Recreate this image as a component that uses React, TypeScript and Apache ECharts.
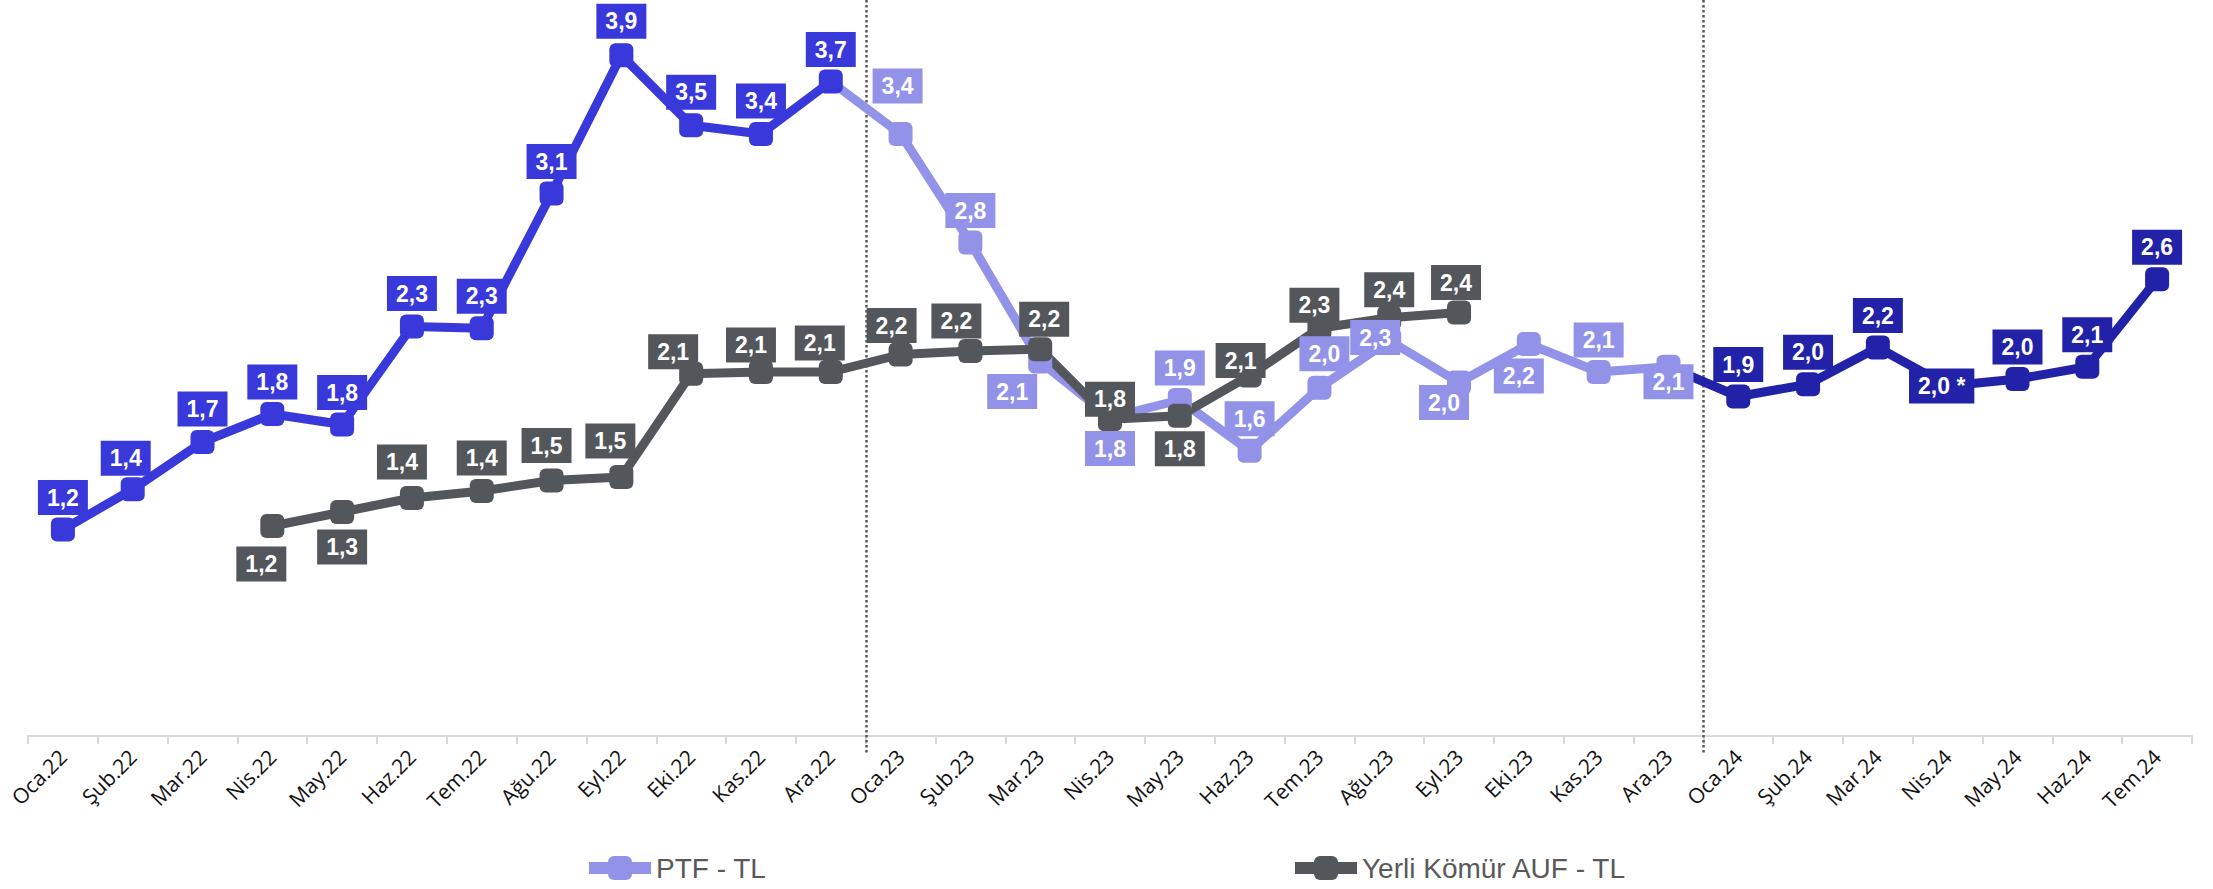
import React, { useEffect, useRef } from "react";
import * as echarts from "echarts";

// ---- data ----
const months = [
  "Oca.22", "Şub.22", "Mar.22", "Nis.22", "May.22", "Haz.22", "Tem.22", "Ağu.22", "Eyl.22", "Eki.22", "Kas.22", "Ara.22",
  "Oca.23", "Şub.23", "Mar.23", "Nis.23", "May.23", "Haz.23", "Tem.23", "Ağu.23", "Eyl.23", "Eki.23", "Kas.23", "Ara.23",
  "Oca.24", "Şub.24", "Mar.24", "Nis.24", "May.24", "Haz.24", "Tem.24",
];

// PTF - TL, 2022 (Oca.22 - Ara.22)
const ptf2022 = [1.18, 1.41, 1.68, 1.84, 1.78, 2.34, 2.33, 3.1, 3.89, 3.49, 3.44, 3.74];
// PTF - TL, 2023 (Oca.23 - Ara.23)
const ptf2023 = [3.44, 2.82, 2.14, 1.82, 1.92, 1.63, 1.99, 2.26, 2.02, 2.24, 2.08, 2.11];
// PTF - TL, 2024 (Oca.24 - Tem.24)
const ptf2024 = [1.94, 2.01, 2.22, 2.0, 2.04, 2.11, 2.61];
const ptf2024Notes = ["", "", "", " *", "", "", ""];
// Yerli Kömür AUF - TL (Nis.22 - Eyl.23)
const komur = [1.2, 1.28, 1.36, 1.4, 1.46, 1.48, 2.07, 2.08, 2.08, 2.18, 2.2, 2.21, 1.81, 1.83, 2.06, 2.33, 2.39, 2.42];
const komurStart = 3;

// ---- label placement (style only) ----
const offBlue: number[][] = [[0, -32], [-7, -31], [0, -33], [0, -32], [0, -32], [0, -33], [0, -32], [0, -32], [0, -34], [0, -33], [0, -33], [0, -32]];
const offLight: number[][] = [[-3, -48], [0, -32], [-28, 30], [0, 31], [0, -32], [0, -32], [5, -34], [-14, -3], [-15, 20], [-10, 32], [0, -32], [0, 15]];
const offNavy: number[][] = [[0, -32], [0, -32], [0, -32], [-6, 0], [0, -32], [0, -32], [0, -32]];
const offGray: number[][] = [[-11, 38], [0, 35], [-10, -36], [0, -33], [-5, -35], [-11, -36], [-18, -22], [-10, -27], [-11, -29], [-9, -29], [-14, -30], [4, -30], [0, -20], [0, 33], [-9, -15], [-5, -23], [0, -28], [-3, -30]];

const C_BLUE = "#3939db";
const C_LIGHT = "#9292e9";
const C_NAVY = "#2222a9";
const C_GRAY = "#53565a";

const fmt = (v: number) => v.toFixed(1).replace(".", ",");

function buildData(values: number[], start: number, offsets: number[][], notes?: string[], bridge?: { index: number; value: number }) {
  const arr: any[] = months.map(() => null);
  if (bridge) {
    arr[bridge.index] = { value: bridge.value, symbol: "none", label: { show: false } };
  }
  values.forEach((v, i) => {
    arr[start + i] = {
      value: v,
      note: notes ? notes[i] : "",
      label: { offset: offsets[i] },
    };
  });
  return arr;
}

function lineSeries(name: string, color: string, data: any[], fontFamily: string) {
  return {
    name,
    type: "line",
    data,
    symbol: "roundRect",
    symbolSize: 24,
    lineStyle: { color, width: 9 },
    itemStyle: { color },
    connectNulls: false,
    label: {
      show: true,
      position: "inside",
      color: "#ffffff",
      fontFamily,
      fontWeight: "bold",
      fontSize: 23,
      lineHeight: 23,
      backgroundColor: color,
      padding: [6, 9],
      formatter: (p: any) => fmt(p.value) + ((p.data && p.data.note) || ""),
    },
    emphasis: { disabled: true },
  };
}

export default function App() {
  const ref = useRef<HTMLDivElement>(null);
  useEffect(() => {
    if (!ref.current) return;
    const chart = echarts.init(ref.current, undefined, { renderer: "svg" });
    const legendText = { fontSize: 28, color: "#595959", fontFamily: "Liberation Sans" };
    const legendBase = {
      top: 854,
      padding: 0,
      itemWidth: 62,
      itemHeight: 30,
      selectedMode: false,
      textStyle: legendText,
      lineStyle: { width: 12 },
    };
    chart.setOption({
      animation: false,
      backgroundColor: "#ffffff",
      grid: { left: 28, right: 21, top: 36, bottom: 153, containLabel: false },
      legend: [
        { ...legendBase, data: ["PTF - TL"], left: 583 },
        { ...legendBase, data: ["Yerli Kömür AUF - TL"], left: 1289 },
      ],
      xAxis: {
        type: "category",
        data: months,
        boundaryGap: true,
        axisLine: { lineStyle: { color: "#d9d9d9", width: 2 } },
        axisTick: { show: true, length: 8, lineStyle: { color: "#d9d9d9", width: 2 } },
        axisLabel: {
          rotate: 45,
          interval: 0,
          margin: 17,
          fontSize: 21,
          fontFamily: "Open Sans",
          color: "#111111",
        },
        splitLine: { show: false },
      },
      yAxis: {
        type: "value",
        min: 0,
        max: 4,
        show: false,
        splitLine: { show: false },
      },
      series: [
        lineSeries("PTF 2024", C_NAVY, buildData(ptf2024, 24, offNavy, ptf2024Notes, { index: 23, value: ptf2023[11] }), "Liberation Sans"),
        lineSeries("PTF - TL", C_LIGHT, buildData(ptf2023, 12, offLight, undefined, { index: 11, value: ptf2022[11] }), "Liberation Sans"),
        lineSeries("PTF 2022", C_BLUE, buildData(ptf2022, 0, offBlue), "Liberation Sans"),
        lineSeries("Yerli Kömür AUF - TL", C_GRAY, buildData(komur, komurStart, offGray), "Liberation Sans"),
      ],
    });

    const dividers = [12, 24];
    const graphics = dividers.map((idx) => {
      const a = chart.convertToPixel({ xAxisIndex: 0 }, idx - 1) as number;
      const b = chart.convertToPixel({ xAxisIndex: 0 }, idx) as number;
      const x = Math.round((a + b) / 2) + 0.5;
      return {
        type: "line",
        shape: { x1: x, y1: 0, x2: x, y2: 754 },
        style: { stroke: "#595959", lineWidth: 2.5, lineDash: [2.5, 2.5] },
        silent: true,
        z: 1,
      };
    });
    chart.setOption({ graphic: graphics });

    return () => chart.dispose();
  }, []);
  return <div ref={ref} style={{ position: "fixed", left: 0, top: 0, width: 2213, height: 889 }} />;
}
